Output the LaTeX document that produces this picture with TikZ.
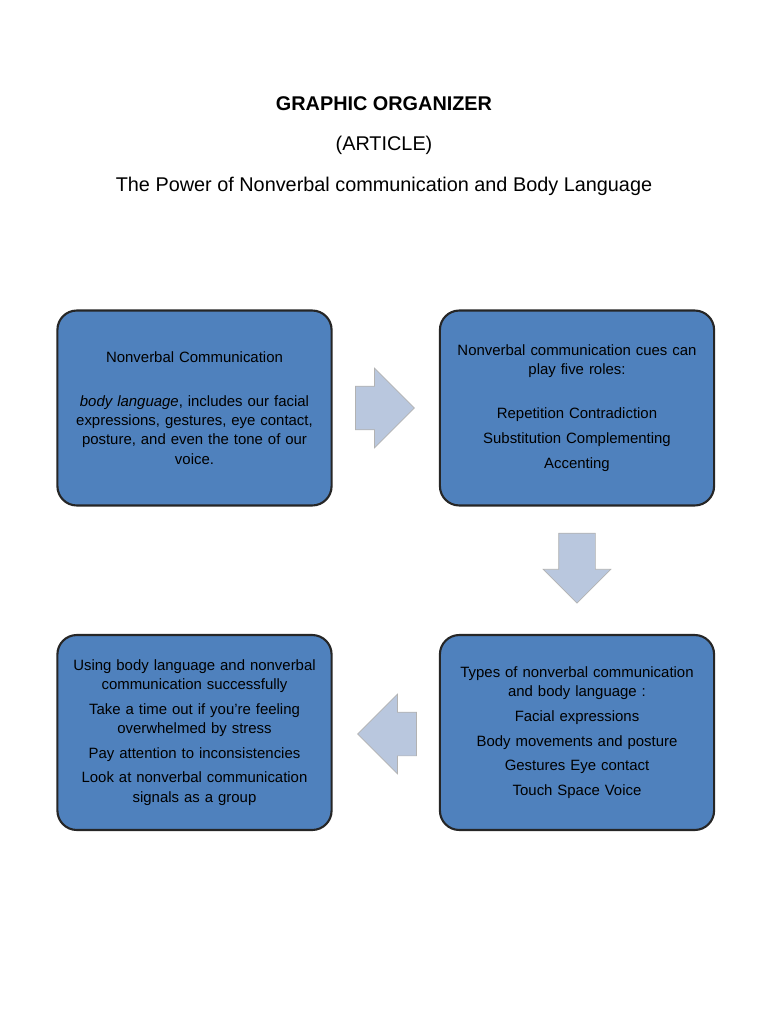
\documentclass[tikz,border=0pt]{standalone}
\usepackage{fontspec}
\setmainfont{Liberation Sans}
\usetikzlibrary{positioning}
\usetikzlibrary{shapes.arrows}
\definecolor{boxblue}{HTML}{4F81BD}
\definecolor{arrowblue}{HTML}{B9C7DE}
\newcommand{\boxfont}{\fontsize{8.5}{11}\selectfont\hyphenpenalty=10000\relax}
\tikzset{x=0.02cm,y=-0.02cm,
box/.style={ % the four blue boxes
    draw=black!85, line width=1.2pt, fill=boxblue, rounded corners=11pt,
    minimum width=5.46cm, minimum height=3.9cm, text width=5.25cm,
    align=center, font=\boxfont},
fat arrow/.style={ % the arrows between boxes
    single arrow, draw=gray!60, fill=arrowblue,
    minimum height=1.18cm, inner xsep=0pt, inner ysep=0.43cm,
    single arrow head extend=0.36cm}
}
\begin{document}
\begin{tikzpicture}
\useasboundingbox (0,0) rectangle (768,1024);
\node [font=\fontsize{11.3}{13}\selectfont\bfseries] (title) at (384,104) {GRAPHIC ORGANIZER};
\node [font=\fontsize{11.3}{13}\selectfont] (kind) at (384,145) {(ARTICLE)};
\node [font=\fontsize{11.3}{13}\selectfont] (sub) at (384,186) {The Power of Nonverbal communication and Body Language};
%%%%%%%%%%%%%%%%%%%%%%%%%%%%%%%%%%
\node [box] (what) at (194.5,408) {Nonverbal Communication\\[14pt]
  \textit{body language}, includes our facial\\ expressions, gestures, eye contact,\\ posture, and even the tone of our\\ voice.};
\node [box] (roles) at (577,408) {Nonverbal communication cues can\\ play five roles:\\[14pt]
  Repetition Contradiction\\[3pt] Substitution Complementing\\[3pt] Accenting\\[14pt]};
\node [box] (types) at (577,732.5) {Types of nonverbal communication\\ and body language :\\[3pt]
  Facial expressions\\[3pt] Body movements and posture\\[3pt] Gestures Eye contact\\[3pt] Touch Space Voice};
\node [box] (use) at (194.5,732.5) {Using body language and nonverbal\\ communication successfully\\[3pt]
  Take a time out if you're feeling\\ overwhelmed by stress\\[3pt]
  Pay attention to inconsistencies\\[3pt]
  Look at nonverbal communication\\ signals as a group\\[8pt]};
%%%%%%%%%%%%%%%%%%%%%%%%%%%%%%%%%%
\node [fat arrow] (a1) at (374,408) {};
\node [fat arrow,rotate=-90,inner ysep=0.36cm,minimum height=1.4cm,single arrow head extend=0.31cm] (a2) at (577,559) {};
\node [fat arrow,rotate=180] (a3) at (398,734) {};
\end{tikzpicture}
\end{document}
